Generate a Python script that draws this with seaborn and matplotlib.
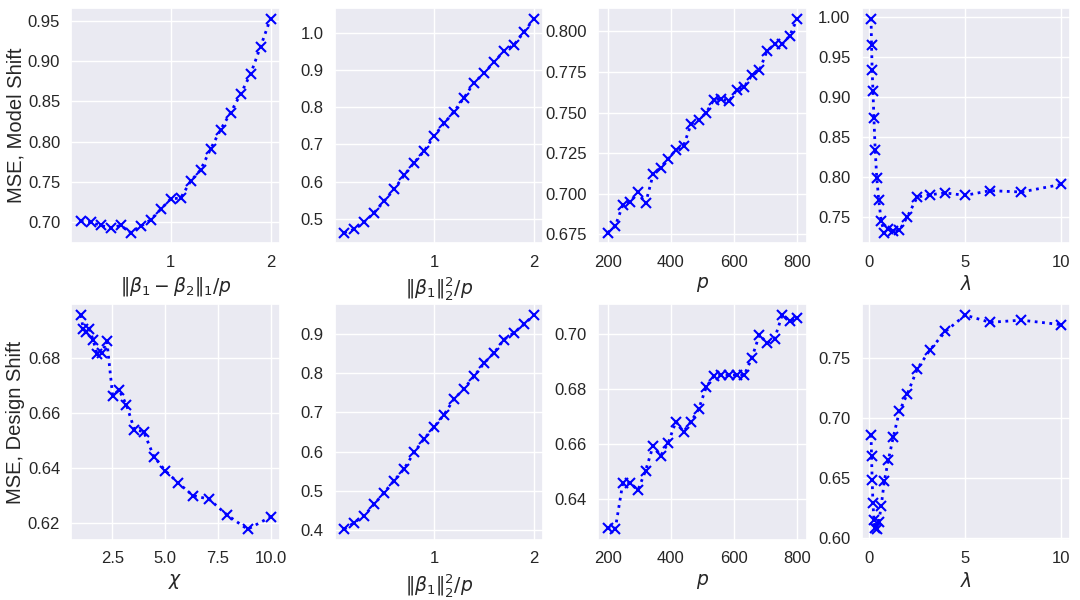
import matplotlib
matplotlib.use("Agg")
import matplotlib.pyplot as plt
import seaborn as sns
import pandas as pd

# ---------------- data ----------------
signal = [0.1, 0.2, 0.3, 0.4, 0.5, 0.6, 0.7, 0.8, 0.9, 1.0,
          1.1, 1.2, 1.3, 1.4, 1.5, 1.6, 1.7, 1.8, 1.9, 2.0]
p_vals = [200, 224, 248, 272, 296, 320, 344, 368, 392, 416, 440, 464, 488,
          512, 536, 560, 584, 608, 632, 656, 680, 704, 728, 752, 776, 800]
lam_vals = [0.1, 0.126, 0.158, 0.2, 0.251, 0.316, 0.398, 0.501, 0.631, 0.794,
            1.0, 1.259, 1.585, 1.995, 2.512, 3.162, 3.981, 5.012, 6.31, 7.943, 10.0]
chi_vals = [1.0, 1.122, 1.259, 1.413, 1.585, 1.778, 1.995, 2.239, 2.512, 2.818,
            3.162, 3.548, 3.981, 4.467, 5.012, 5.623, 6.31, 7.079, 7.943, 8.913, 10.0]

# Model shift row
ms_diff = [0.701, 0.700, 0.696, 0.693, 0.696, 0.687, 0.695, 0.703, 0.716, 0.729,
           0.730, 0.751, 0.765, 0.791, 0.815, 0.836, 0.859, 0.884, 0.918, 0.953]
ms_signal = [0.462, 0.471, 0.491, 0.516, 0.547, 0.579, 0.617, 0.651, 0.682, 0.723,
             0.757, 0.789, 0.826, 0.867, 0.892, 0.923, 0.952, 0.969, 1.003, 1.040]
ms_p = [0.676, 0.680, 0.693, 0.695, 0.701, 0.694, 0.712, 0.716, 0.7215, 0.727,
        0.7295, 0.743, 0.7455, 0.750, 0.758, 0.7585, 0.757, 0.764, 0.766, 0.773,
        0.776, 0.788, 0.792, 0.792, 0.7975, 0.808]
ms_lam = [0.998, 0.965, 0.9335, 0.9076, 0.8729, 0.834, 0.7987, 0.7712, 0.7445, 0.730,
          0.7352, 0.7322, 0.733, 0.750, 0.7746, 0.7775, 0.7797, 0.7767, 0.7826, 0.7809, 0.7903]

# Design shift row
ds_chi = [0.6956, 0.6905, 0.6895, 0.6905, 0.6865, 0.6813, 0.6817, 0.686, 0.6663, 0.6683,
          0.663, 0.6538, 0.6532, 0.6441, 0.6389, 0.6345, 0.6299, 0.6286, 0.6228, 0.6176, 0.6221]
ds_signal = [0.4017, 0.4187, 0.4366, 0.4656, 0.4954, 0.526, 0.5559, 0.5976, 0.6325, 0.6624,
             0.6939, 0.7339, 0.7603, 0.7918, 0.825, 0.8514, 0.8855, 0.9026, 0.9239, 0.9477]
ds_p = [0.6296, 0.6292, 0.6459, 0.6458, 0.6434, 0.6504, 0.6594, 0.6558, 0.6606, 0.6682,
        0.6645, 0.6682, 0.6727, 0.6807, 0.6847, 0.685, 0.685, 0.685, 0.685, 0.6912,
        0.6996, 0.6966, 0.6982, 0.7067, 0.7047, 0.7058]
ds_lam = [0.6858, 0.6682, 0.6483, 0.6293, 0.615, 0.6085, 0.6071, 0.6128, 0.6264, 0.6474,
          0.6645, 0.6838, 0.7057, 0.7199, 0.7406, 0.7563, 0.7719, 0.7855, 0.7795, 0.7813, 0.7776]

xlabel_diff = r'$\|\beta_1 - \beta_2\|_1/p$'
xlabel_signal = r'$\|\beta_1\|_2^2/p$'
xlabel_p = r'$p$'
xlabel_lam = r'$\lambda$'
xlabel_chi = r'$\chi$'
ylabels = ["MSE, Model Shift", "MSE, Design Shift"]

# ---------------- style ----------------
sns.set_theme(style="darkgrid")
plt.rcParams['font.family'] = ['Liberation Sans', 'DejaVu Sans']
plt.rcParams['mathtext.fontset'] = 'dejavusans'
plt.rcParams['xtick.labelsize'] = 12
plt.rcParams['ytick.labelsize'] = 12
plt.rcParams['axes.labelsize'] = 14.5

fig, axes = plt.subplots(2, 4, figsize=(10.8, 6), dpi=100)
fig.subplots_adjust(left=0.066, right=0.991, top=0.987, bottom=0.10,
                    wspace=0.262, hspace=0.259)

panels = [
    (0, 0, signal, ms_diff, xlabel_diff),
    (0, 1, signal, ms_signal, xlabel_signal),
    (0, 2, p_vals, ms_p, xlabel_p),
    (0, 3, lam_vals, ms_lam, xlabel_lam),
    (1, 0, chi_vals, ds_chi, xlabel_chi),
    (1, 1, signal, ds_signal, xlabel_signal),
    (1, 2, p_vals, ds_p, xlabel_p),
    (1, 3, lam_vals, ds_lam, xlabel_lam),
]

for r, c, xs, ys, xl in panels:
    ax = axes[r, c]
    df = pd.DataFrame({"x": xs, "y": ys})
    sns.lineplot(data=df, x="x", y="y", ax=ax, color="blue", marker="x",
                 linestyle=":", linewidth=2, markersize=6.5, markeredgewidth=1.5,
                 markeredgecolor="blue")
    ax.set_xlabel(xl, fontsize=13.5)
    ax.set_ylabel(ylabels[r] if c == 0 else "", labelpad=2)
    ax.tick_params(axis='both', pad=2)
    if c == 1 or (r == 0 and c == 0):
        ax.set_xticks([1, 2])
        ax.set_xticklabels(["1", "2"])
    if c == 3:
        ax.set_xticks([0, 5, 10])

axes[0, 0].set_xlim(0.005, 2.095)
axes[0, 1].set_xlim(0.005, 2.095)
axes[1, 1].set_xlim(0.005, 2.095)

fig.savefig("out.png", dpi=100)
